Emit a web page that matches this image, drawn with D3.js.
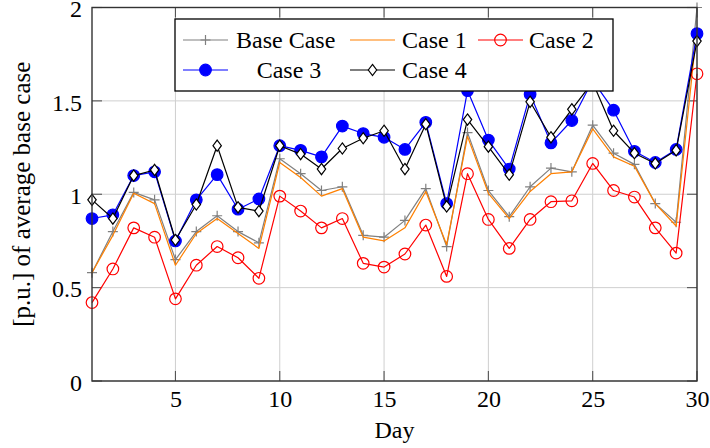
<!DOCTYPE html>
<html>
<head>
<meta charset="utf-8">
<script src="https://cdn.jsdelivr.net/npm/d3@7"></script>
<style>
  html, body { margin: 0; padding: 0; background: #fff; }
  svg { display: block; }
  svg text { font-family: "Liberation Serif", "DejaVu Serif", serif; fill: #000; }
</style>
</head>
<body>
<svg id="chart" width="710" height="448"></svg>
<script>
// Daily demand, normalised to the base-case average
const days = [1,2,3,4,5,6,7,8,9,10,11,12,13,14,15,16,17,18,19,20,21,22,23,24,25,26,27,28,29,30];
const baseCase = [0.58,0.80,1.01,0.97,0.65,0.80,0.885,0.80,0.74,1.19,1.11,1.02,1.04,0.78,0.77,0.86,1.03,0.72,1.33,1.02,0.88,1.04,1.14,1.12,1.37,1.22,1.16,0.95,0.85,2.0];
const case1 = [0.58,0.78,1.005,0.95,0.62,0.79,0.87,0.79,0.71,1.17,1.09,0.99,1.03,0.77,0.75,0.82,1.015,0.73,1.31,1.005,0.87,1.015,1.11,1.12,1.35,1.20,1.15,0.95,0.83,1.89];
const case2 = [0.42,0.60,0.82,0.77,0.44,0.62,0.72,0.66,0.55,0.99,0.91,0.82,0.87,0.63,0.61,0.68,0.835,0.56,1.11,0.865,0.71,0.865,0.96,0.965,1.165,1.02,0.985,0.82,0.685,1.645];
const case3 = [0.87,0.89,1.10,1.12,0.75,0.97,1.105,0.92,0.975,1.26,1.235,1.20,1.365,1.325,1.305,1.24,1.385,0.95,1.555,1.29,1.135,1.535,1.275,1.395,1.61,1.45,1.23,1.17,1.24,1.86];
const case4 = [0.97,0.87,1.10,1.13,0.755,0.945,1.26,0.93,0.91,1.26,1.215,1.135,1.245,1.30,1.34,1.135,1.375,0.935,1.40,1.255,1.105,1.495,1.305,1.455,1.60,1.34,1.22,1.165,1.235,1.82];

const xTicks = [5,10,15,20,25,30];
const yTicks = [0,0.5,1,1.5,2];
const yTickLabels = ["0","0.5","1","1.5","2"];
const seriesNames = ["Base Case","Case 1","Case 2","Case 3","Case 4"];

const series = [
  {name: seriesNames[0], values: baseCase, color: "#808080", mark: "plus"},
  {name: seriesNames[1], values: case1, color: "#ff8000", mark: "none"},
  {name: seriesNames[2], values: case2, color: "#ff0000", mark: "circle"},
  {name: seriesNames[3], values: case3, color: "#0000ff", mark: "dot"},
  {name: seriesNames[4], values: case4, color: "#000000", mark: "diamond"}
];

const FONT = '"Liberation Serif", "DejaVu Serif", serif';
const svg = d3.select("#chart");
const L = 92, R = 697, T = 7.5, B = 381;
const x = d3.scaleLinear().domain([1, 30]).range([L, R]);
const y = d3.scaleLinear().domain([0, 2]).range([B, T]);

// grid
const grid = svg.append("g").attr("stroke", "#cfcfcf").attr("stroke-width", 1);
xTicks.forEach(t => grid.append("line").attr("x1", x(t)).attr("x2", x(t)).attr("y1", T).attr("y2", B));
yTicks.forEach(t => grid.append("line").attr("x1", L).attr("x2", R).attr("y1", y(t)).attr("y2", y(t)));

// inward ticks on all four sides
const tickLen = 10;
const ticks = svg.append("g").attr("stroke", "#555").attr("stroke-width", 1.1);
xTicks.forEach(t => {
  ticks.append("line").attr("x1", x(t)).attr("x2", x(t)).attr("y1", B).attr("y2", B - tickLen);
  ticks.append("line").attr("x1", x(t)).attr("x2", x(t)).attr("y1", T).attr("y2", T + tickLen);
});
yTicks.forEach(t => {
  ticks.append("line").attr("x1", L).attr("x2", L + tickLen).attr("y1", y(t)).attr("y2", y(t));
  ticks.append("line").attr("x1", R).attr("x2", R - tickLen).attr("y1", y(t)).attr("y2", y(t));
});

// tick labels via d3 axes (axis lines hidden, text only)
const xAxis = svg.append("g").attr("transform", `translate(0,${B})`)
  .call(d3.axisBottom(x).tickValues(xTicks).tickSize(0).tickPadding(9));
xAxis.select(".domain").remove();
xAxis.attr("font-family", FONT).attr("font-size", 24);
xAxis.selectAll("text").style("font-family", FONT).style("font-size", "24px");

const yAxis = svg.append("g").attr("transform", `translate(${L},0)`)
  .call(d3.axisLeft(y).tickValues(yTicks).tickFormat((d, i) => yTickLabels[i]).tickSize(0).tickPadding(10));
yAxis.select(".domain").remove();
yAxis.attr("font-family", FONT).attr("font-size", 24);
yAxis.selectAll("text").style("font-family", FONT).style("font-size", "24px").attr("dy", "0.38em");

svg.append("text").attr("x", (L + R) / 2).attr("y", 438).attr("text-anchor", "middle")
  .style("font-size", "24px").text("Day");
svg.append("text").attr("transform", `translate(30,${(T + B) / 2}) rotate(-90)`)
  .attr("text-anchor", "middle").style("font-size", "25px").text("[p.u.] of average base case");

// marker drawing
function drawMark(g, kind, color, cx, cy) {
  if (kind === "plus") {
    g.append("path").attr("d", `M${cx-5},${cy}H${cx+5}M${cx},${cy-5}V${cy+5}`)
      .attr("stroke", color).attr("stroke-width", 1.2).attr("fill", "none");
  } else if (kind === "circle") {
    g.append("circle").attr("cx", cx).attr("cy", cy).attr("r", 5.8)
      .attr("stroke", color).attr("stroke-width", 1.2).attr("fill", "none");
  } else if (kind === "dot") {
    g.append("circle").attr("cx", cx).attr("cy", cy).attr("r", 5.8)
      .attr("stroke", color).attr("stroke-width", 1.2).attr("fill", color);
  } else if (kind === "diamond") {
    g.append("path").attr("d", `M${cx},${cy-5.6}L${cx+4.2},${cy}L${cx},${cy+5.6}L${cx-4.2},${cy}Z`)
      .attr("stroke", color).attr("stroke-width", 1.2).attr("fill", "#fff");
  }
}

const line = d3.line().x((d, i) => x(days[i])).y(d => y(d));
series.forEach(s => {
  const g = svg.append("g");
  g.append("path").datum(s.values).attr("d", line)
    .attr("fill", "none").attr("stroke", s.color).attr("stroke-width", 1.2).attr("stroke-linejoin", "round");
  if (s.mark !== "none") s.values.forEach((v, i) => drawMark(g, s.mark, s.color, x(days[i]), y(v)));
});

// frame
svg.append("rect").attr("x", L).attr("y", T).attr("width", R - L).attr("height", B - T)
  .attr("fill", "none").attr("stroke", "#333").attr("stroke-width", 1.4);

// legend
const lg = svg.append("g");
lg.append("rect").attr("x", 175).attr("y", 19).attr("width", 438).attr("height", 72)
  .attr("fill", "#fff").attr("stroke", "#000").attr("stroke-width", 1.3);
const cells = [
  {s: 0, sx: 183, tx: 236, ty: 40, anchor: "start"},
  {s: 1, sx: 350, tx: 402, ty: 40, anchor: "start"},
  {s: 2, sx: 478, tx: 529, ty: 40, anchor: "start"},
  {s: 3, sx: 183, tx: 289, ty: 70, anchor: "middle"},
  {s: 4, sx: 350, tx: 402, ty: 70, anchor: "start"}
];
cells.forEach(c => {
  const s = series[c.s];
  lg.append("line").attr("x1", c.sx).attr("x2", c.sx + 45).attr("y1", c.ty).attr("y2", c.ty)
    .attr("stroke", s.color).attr("stroke-width", 1.2);
  if (s.mark !== "none") drawMark(lg, s.mark, s.color, c.sx + 22.5, c.ty);
  lg.append("text").attr("x", c.tx).attr("y", c.ty).attr("dy", "0.33em").attr("text-anchor", c.anchor)
    .style("font-size", "24px").text(s.name);
});
</script>
</body>
</html>
